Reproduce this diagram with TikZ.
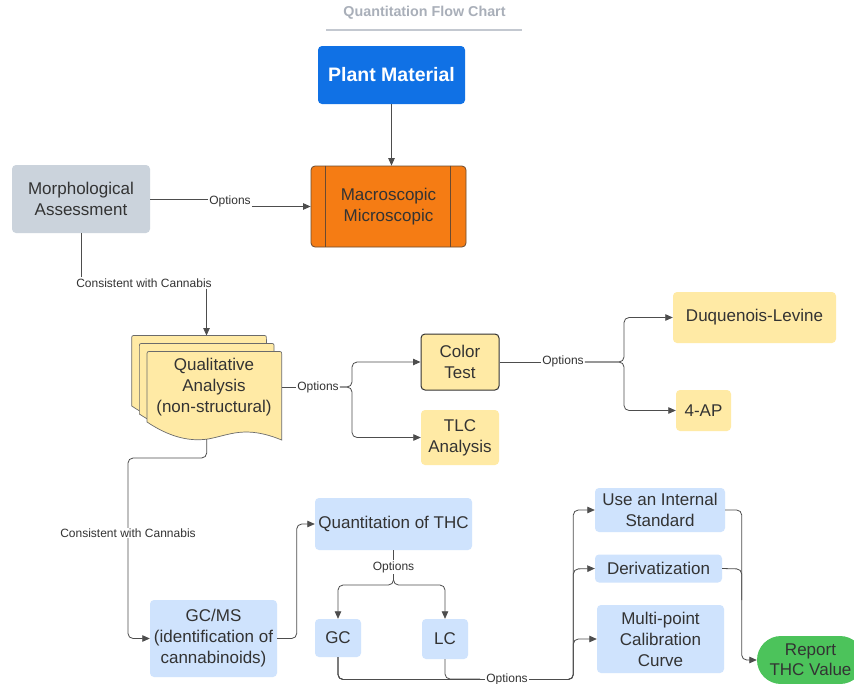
\documentclass[tikz,border=0pt]{standalone}
\usepackage{fontspec}
\setmainfont{Liberation Sans}
\usetikzlibrary{arrows.meta,calc}
\definecolor{txt}{HTML}{333333}
\definecolor{plantblue}{HTML}{1071E5}
\definecolor{orng}{HTML}{F57C14}
\definecolor{orngdark}{HTML}{6A4A30}
\definecolor{morphgray}{HTML}{CBD3DC}
\definecolor{yel}{HTML}{FFEAA5}
\definecolor{sheetline}{HTML}{6B6B6B}
\definecolor{ltblue}{HTML}{CFE3FD}
\definecolor{grn}{HTML}{4CC35B}
\definecolor{linec}{HTML}{4D4D4D}
\definecolor{titlegray}{HTML}{A9AFB9}
\definecolor{titleline}{HTML}{C3C8D0}
\newcommand\bodyfont{\fontsize{17}{21}\selectfont}
\newcommand\lblfont{\fontsize{12}{14}\selectfont}
\newcommand\plantfont{\fontsize{19.5}{23}\selectfont\bfseries}
\newcommand\titlefont{\fontsize{14.3}{17}\selectfont\bfseries}
\newcommand\qdocpath{(147,422) -- (147,355.5) .. controls (147,351.5) .. (151,351.5) -- (277.7,351.5) .. controls (281.7,351.5) .. (281.7,355.5) -- (281.7,440) .. controls (245,425) and (230,435) .. (208,439) .. controls (188,442) and (168,436) .. (147,422) -- cycle}
\begin{document}
\begin{tikzpicture}[x=1pt,y=-1pt,
  box/.style={rounded corners=4pt, align=center, text=txt, font=\bodyfont, inner sep=0pt},
  lbl/.style={font=\lblfont, text=txt, inner sep=1pt},
  conn/.style={draw=linec, line width=0.8pt, rounded corners=5pt},
  arr/.style={conn, -{Triangle[length=7.5pt,width=6.5pt]}},
  sheet/.style={fill=yel, draw=sheetline, line width=0.7pt}]
\useasboundingbox (0,0) rectangle (854,683);
\clip (0,0) rectangle (854,683);
\fill[white] (0,0) rectangle (854,683);

% title
\node[font=\titlefont, text=titlegray] (title) at (424.5,13) {Quantitation Flow Chart};
\draw[titleline, line width=1.5pt] (326,30) -- (522,30);

% nodes
\node[box, fill=plantblue, text=white, font=\plantfont, minimum width=147, minimum height=58] (plant) at (391.5,75) {Plant Material};
\node[box, fill=orng, draw=orngdark, line width=0.8pt, minimum width=155, minimum height=81] (macro) at (388.5,206.5) {Macroscopic\\Microscopic};
\draw[orngdark, line width=0.8pt] ($(macro.north west)+(15,0)$) -- ($(macro.south west)+(15,0)$);
\draw[orngdark, line width=0.8pt] ($(macro.north east)+(-16,0)$) -- ($(macro.south east)+(-16,0)$);
\node[box, fill=morphgray, minimum width=138, minimum height=68] (morph) at (81,199) {Morphological\\Assessment};

% qualitative stack
\draw[sheet, shift={(-15.3,-16)}] \qdocpath;
\draw[sheet, shift={(-7.65,-8)}] \qdocpath;
\draw[sheet] \qdocpath;
\node[box] (qual) at (214,387) {Qualitative\\Analysis\\(non-structural)};
\coordinate (qtop) at (206.5,335.5);
\coordinate (qright) at (281.7,387);
\coordinate (qbot) at (206.7,439);

\node[box, fill=yel, draw=txt, line width=1pt, minimum width=78, minimum height=56] (color) at (460,362) {Color\\Test};
\node[box, fill=yel, minimum width=78, minimum height=55] (tlc) at (460,437.5) {TLC\\Analysis};
\node[box, fill=yel, minimum width=163, minimum height=51] (duq) at (754.5,317.5) {Duquenois-Levine};
\node[box, fill=yel, minimum width=55, minimum height=41] (ap) at (703.5,410.5) {4-AP};

\node[box, fill=ltblue, minimum width=127, minimum height=77] (gcms) at (213.5,638.5) {GC/MS\\(identification of\\cannabinoids)};
\node[box, fill=ltblue, minimum width=157, minimum height=52] (quant) at (393.5,524) {Quantitation of THC};
\node[box, fill=ltblue, minimum width=46, minimum height=38] (gc) at (338,638) {GC};
\node[box, fill=ltblue, minimum width=46, minimum height=40] (lc) at (445,639) {LC};
\node[box, fill=ltblue, minimum width=130, minimum height=44] (ise) at (660,510) {Use an Internal\\Standard};
\node[box, fill=ltblue, minimum width=127, minimum height=28] (deriv) at (658.5,568.5) {Derivatization};
\node[box, fill=ltblue, minimum width=127, minimum height=68] (multi) at (660.5,639) {Multi-point\\Calibration\\Curve};
\node[box, fill=grn, rounded corners=24pt, minimum width=107, minimum height=48, font=\fontsize{17}{20}\selectfont] (report) at (810.5,660) {Report\\THC Value};

% connectors
\draw[arr] (plant.south) -- (plant.south |- macro.north);

\node[lbl] (opt1) at (230,201) {Options};
\draw[conn] (morph.east) -- (opt1.west |- morph.east);
\draw[arr] (opt1.east |- macro.west) -- (macro.west);

\node[lbl] (cons1) at (144,283) {Consistent with Cannabis};
\draw[conn] (morph.south) -- (morph.south |- cons1.north);
\draw[arr] (qtop |- cons1.south) -- (qtop);

\node[lbl] (opt2) at (318,387) {Options};
\draw[conn] (qright) -- (opt2.west |- qright);
\draw[arr] (opt2.east |- qright) -- (352,387) -- (352,362) -- (color.west);
\draw[arr] (opt2.east |- qright) -- (352,387) -- (352,437.5) -- (tlc.west);

\node[lbl] (opt3) at (563,361.5) {Options};
\draw[conn] (color.east) -- (opt3.west |- color.east);
\draw[arr] (opt3.east |- color.east) -- (624,362) -- (624,317.5) -- (duq.west);
\draw[arr] (opt3.east |- color.east) -- (624,362) -- (624,410.5) -- (ap.west);

\draw[arr] (qbot) -- (206.7,458) -- (128,458) -- (128,638.5) -- (gcms.west);
\node[lbl, fill=white] (cons2) at (128,533) {Consistent with Cannabis};

\draw[arr] (gcms.east) -- (296.7,638.5) -- (296.7,524) -- (quant.west);

\draw[arr] (quant.south) -- (393.5,585) -- (338,585) -- (gc.north);
\draw[arr] (quant.south) -- (393.5,585) -- (445,585) -- (lc.north);
\node[lbl, fill=white] (opt4) at (393.5,567) {Options};

\draw[arr] (gc.south) -- (338,679.5) -- (573.3,679.5) -- (573.3,639) -- (multi.west);
\draw[arr] (gc.south) -- (338,679.5) -- (573.3,679.5) -- (573.3,569) -- (deriv.west);
\draw[arr] (gc.south) -- (338,679.5) -- (573.3,679.5) -- (573.3,510) -- (ise.west);
\draw[conn] (lc.south) -- (445,679) -- (480,679);
\node[lbl, fill=white] (opt5) at (507,679) {Options};

\draw[arr] (ise.east) -- (741.7,510) -- (741.7,660) -- (report.west);
\draw[conn] (deriv.east) -- (741.7,569) -- (741.7,600);
\end{tikzpicture}
\end{document}
